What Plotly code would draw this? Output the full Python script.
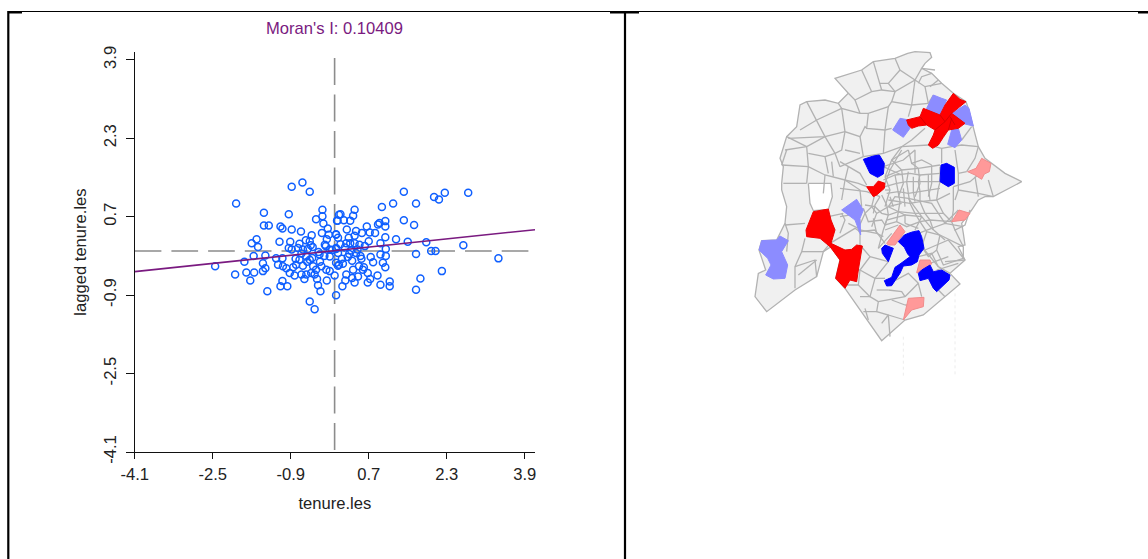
import plotly.graph_objects as go

W, H = 1148, 559

# ---- Moran scatter data (standardised tenure, spatial lag) ----
tenure_les = [-2.02,-0.88,-0.66,-0.51,-1.45,-0.94,-1.45,-1.35,-1.11,-1.07,-0.88,-0.69,-0.25,-0.25,-0.38,-0.23,-0.14,-0.26,-0.47,-0.12,0.03,0.09,0.05,-0.16,-1.60,-1.70,-1.57,-1.13,-0.91,-0.59,-0.72,-0.51,-0.49,-0.20,-1.66,-1.42,-1.85,-1.47,-2.45,-2.04,-1.81,-1.65,-1.73,-1.42,-1.47,-1.16,-1.20,-1.07,-1.07,-1.11,-0.97,-1.38,-0.51,-0.41,-0.29,-0.34,0.03,0.0,-0.16,
-0.94,-0.88,-0.75,-0.65,-0.55,-0.68,-0.58,-0.46,-0.31,-0.21,-0.10,-0.10,0.03,0.07,-1.06,-0.99,-0.85,-0.79,-0.92,-0.82,-0.68,-0.58,-0.62,-0.44,-0.38,-0.27,-0.17,-0.10,-0.41,-0.36,-0.48,0.03,0.07,-0.51,-0.72,-0.65,
1.42,2.26,2.04,2.14,2.74,1.20,1.67,0.97,1.42,1.63,0.41,0.12,0.38,0.06,0.19,0.32,0.92,1.04,1.04,0.89,0.66,0.25,0.44,0.56,0.72,0.83,0.03,0.07,0.41,1.04,1.26,1.50,1.88,2.64,3.36,1.67,1.98,2.07,1.05,0.94,0.29,0.24,0.32,0.41,0.51,0.70,0.03,0.34,0.44,0.53,0.27,0.74,0.79,0.94,1.05,0.99,1.04,0.09,0.17,0.38,0.50,0.58,0.68,0.24,0.36,0.41,0.68,0.73,0.88,0.16,0.94,1.13,1.13,1.76,2.20,1.67,
-0.45,-0.33,-0.18,-0.05,0.12,0.21,0.30,0.47,0.62,0.15,0.36,0.55,-0.30,-0.56,-0.80,0.22,0.48,0.60]
lagged_tenure_les = [0.97,1.31,1.40,1.21,0.78,0.75,0.52,0.52,0.50,0.46,0.44,0.40,0.84,0.71,0.65,0.56,0.46,0.37,0.32,0.33,0.34,0.74,0.62,0.24,0.24,0.16,0.08,0.19,0.19,0.22,0.15,0.20,0.12,0.13,-0.10,-0.09,-0.22,-0.25,-0.31,-0.48,-0.44,-0.44,-0.60,-0.35,-0.41,-0.28,-0.15,-0.15,-0.61,-0.72,-0.72,-0.82,-1.03,-1.19,-0.82,-0.70,-0.90,-0.50,-0.60,
0.06,0.03,0.06,0.03,0.04,-0.05,-0.11,-0.14,-0.07,-0.10,-0.11,0.03,0.04,-0.04,-0.31,-0.35,-0.33,-0.28,-0.45,-0.50,-0.48,-0.48,-0.57,-0.31,-0.38,-0.31,-0.38,-0.41,-0.48,-0.57,-0.45,-0.24,-0.30,-0.18,-0.18,-0.30,
1.21,1.19,1.10,1.05,1.19,0.97,0.97,0.90,0.63,0.53,0.84,0.75,0.72,0.62,0.63,0.62,0.57,0.61,0.50,0.54,0.50,0.44,0.41,0.37,0.38,0.37,0.33,0.27,0.31,0.28,0.24,0.19,0.18,0.12,-0.15,-0.06,0.0,0.0,0.04,0.16,0.27,0.16,0.16,0.16,0.13,0.20,0.06,0.01,-0.04,-0.10,-0.12,-0.12,-0.23,-0.07,-0.10,-0.24,-0.33,-0.28,-0.26,-0.38,-0.31,-0.38,-0.45,-0.48,-0.55,-0.64,-0.64,-0.57,-0.50,-0.72,-0.69,-0.62,-0.72,-0.56,-0.41,-0.79,
0.08,-0.02,0.10,0.02,0.14,0.07,-0.06,0.03,0.10,-0.16,-0.20,-0.16,-0.22,-0.22,-0.16,-0.60,-0.52,-0.33]
fit_x = [-4.1, 4.11]
fit_y = [-0.42, 0.435]
mean_h_x = [-4.1, 4.11]
mean_h_y = [0, 0]
mean_v_x = [0, 0]
mean_v_y = [3.94, -4.1]
tick_vals = [-4.1, -2.5, -0.9, 0.7, 2.3, 3.9]
tick_text = ["-4.1", "-2.5", "-0.9", "0.7", "2.3", "3.9"]
title_text = "Moran's I: 0.10409"
x_title = "tenure.les"
y_title = "lagged tenure.les"

# ---- Map geometry, in map units ----
SOUTH_DY = 420
CENTRE_DX, CENTRE_DY = 285, 300

outline = [(488,10),(510,5),(555,8),(560,22),(540,40),(530,55),(560,70),(590,100),(625,130),(663,155),(670,175),(685,230),(700,290),(720,325),(740,340),(780,370),(830,395),(800,410),(745,440),(720,440),(700,450),(680,480),(650,520),(655,550),(660,585),(640,590),(660,630),(615,670),(645,702),(535,795),(480,810),(410,872),(300,715),(272,685),(285,630),(258,590),(235,605),(215,680),(150,720),(65,785),(30,740),(40,670),(62,660),(42,600),(50,572),(95,570),(120,520),(125,470),(110,420),(110,400),(115,350),(105,325),(125,260),(155,230),(165,165),(185,155),(240,150),(280,160),(310,130),(270,85),(350,60),(385,35),(450,25),(488,10)]
hole = [(190,400),(258,400),(262,440),(250,478),(205,482),(195,460),(190,400)]

north_lines = [
 [(385,35),(405,100),(410,120),(380,125),(330,150),(310,130)],
 [(330,150),(345,190),(290,175),(280,160)],
 [(530,55),(510,90),(450,125),(410,120)],
 [(510,90),(540,110),(590,100)],
 [(450,125),(440,155),(500,165),(490,200)],
 [(510,90),(500,165)],
 [(345,190),(370,190),(430,170),(440,155)],
 [(370,190),(365,235),(420,240),(440,235)],
 [(430,170),(420,240),(415,310)],
 [(185,155),(215,210),(240,260),(270,310),(285,350)],
 [(215,210),(290,175)],
 [(290,175),(300,245),(345,260),(360,230),(365,235)],
 [(300,245),(240,260),(130,265)],
 [(240,260),(185,290),(190,350)],
 [(185,290),(125,260)],
 [(110,345),(190,350),(240,375),(300,390)],
 [(240,320),(250,370)],
 [(270,310),(240,320)],
 [(260,335),(265,380)],
 [(345,260),(355,320)],
 [(285,350),(355,320)],
 [(355,320),(415,310),(470,290),(550,285)],
 [(470,290),(440,330),(420,380)],
 [(540,110),(550,160)],
 [(550,285),(590,295),(620,290),(650,285),(700,290)],
 [(650,270),(680,230)],
 [(700,290),(690,325),(665,365)],
 [(590,295),(590,340)],
 [(540,235),(500,270),(470,290)],
 [(350,60),(365,90),(380,125)],
 [(560,70),(530,80),(520,100)],
 [(490,300),(500,340),(530,330),(560,345)],
 [(300,390),(340,400),(365,410)],
 [(240,375),(235,430)],
 [(185,400),(190,350)],
 [(300,390),(290,450)],
 [(440,330),(490,300)],
 [(420,380),(470,360),(520,355),(585,345)],
 [(440,330),(470,360),(475,400),(460,440)],
 [(500,340),(520,355),(525,400),(510,440)],
 [(560,345),(560,400),(550,440)],
 [(630,300),(640,370),(640,420),(630,450)],
 [(640,370),(665,365)],
 [(690,380),(700,440)],
 [(640,420),(700,430),(745,440)],
 [(730,390),(745,440)],
 [(165,240),(215,210)],
 [(120,300),(185,290)],
 [(190,310),(240,320)],
 [(110,345),(125,300)],
 [(115,400),(185,400)],
 [(300,245),(290,300),(270,310)],
 [(300,300),(345,310)],
 [(300,390),(310,350)],
 [(430,100),(450,125)],
 [(450,25),(465,60),(510,90)],
 [(465,60),(430,100),(405,100)],
 [(555,110),(580,90)],
 [(500,165),(550,160)],
 [(530,55),(570,60)],
 [(550,160),(565,135)],
 [(300,390),(345,420),(350,470)],
 [(420,380),(435,420),(420,470)],
 [(420,420),(435,420)],
]
centre_lines = [
 [(130,90),(165,75),(210,70),(240,75),(300,70)],
 [(135,110),(170,100),(200,95),(235,95),(300,95)],
 [(140,130),(175,125),(205,130),(240,125),(300,115)],
 [(145,150),(180,155),(210,160),(240,155),(290,150),(330,130)],
 [(120,140),(105,165),(100,190)],
 [(165,75),(170,100),(175,125),(180,155),(175,185),(170,215)],
 [(205,65),(200,95),(205,130),(210,160),(225,190),(240,215)],
 [(240,75),(235,95),(240,125),(240,155),(255,190),(270,210)],
 [(300,50),(300,95),(295,115),(290,150),(310,190),(335,215)],
 [(75,165),(105,170),(125,190),(145,195),(175,185),(225,190),(255,190),(310,190)],
 [(125,135),(140,165),(145,195),(135,225)],
 [(70,175),(85,215),(125,210),(135,225),(170,215),(200,230),(240,215),(270,210),(335,215)],
 [(100,205),(110,250),(130,260)],
 [(60,240),(110,250)],
 [(340,110),(340,180),(335,215)],
 [(240,215),(260,245),(300,255),(370,290)],
 [(270,210),(280,240)],
 [(335,215),(345,240),(375,225),(390,180)],
 [(345,240),(370,290)],
 [(300,255),(290,300),(310,345),(370,325),(370,290)],
 [(260,245),(245,290),(265,320),(290,300)],
 [(135,100),(150,60),(185,0)],
 [(0,35),(60,70),(80,105)],
 [(130,50),(185,75)],
 [(225,70),(225,0),(190,30),(130,50)],
 [(0,115),(80,125),(120,140)],
 [(60,190),(0,200)],
 [(150,140),(160,170)],
 [(190,115),(195,170)],
 [(220,80),(220,125),(225,155)],
 [(265,75),(265,115),(270,150)],
 [(340,110),(390,95),(420,70)],
 [(100,130),(130,110)],
]
south_lines = [
 [(120,105),(180,100)],
 [(180,145),(170,185),(150,230),(150,295)],
 [(170,185),(235,185)],
 [(150,230),(210,210),(215,260)],
 [(160,255),(215,210)],
 [(255,160),(235,185)],
 [(255,160),(330,115),(345,125),(345,165)],
 [(255,95),(270,120)],
 [(250,80),(295,70)],
 [(340,125),(390,120),(420,160)],
 [(345,165),(375,200),(345,240),(340,285),(300,285)],
 [(375,200),(410,210),(430,215)],
 [(345,240),(390,265),(375,320),(345,320)],
 [(390,265),(420,265)],
 [(375,320),(400,335),(395,365),(355,365)],
 [(400,335),(480,320)],
 [(395,365),(430,375),(435,440)],
 [(430,375),(480,390)],
 [(480,320),(520,280),(530,320)],
 [(520,280),(490,250),(425,285)],
 [(430,215),(400,250),(390,265)],
 [(540,180),(610,150),(660,210)],
 [(535,175),(580,230),(615,250)],
 [(600,215),(660,210)],
 [(560,115),(600,150)],
 [(555,220),(610,200)],
 [(415,120),(425,90),(480,75),(480,100)],
 [(480,75),(530,80),(560,115),(600,100),(655,110)],
 [(530,80),(510,120)],
 [(600,100),(620,80),(640,60)],
 [(380,110),(395,70),(430,50),(480,75)],
 [(395,70),(380,50),(390,10)],
 [(340,115),(360,70),(380,50)],
 [(430,50),(450,20),(490,25),(530,80)],
 [(490,25),(560,40),(600,100)],
 [(400,175),(415,120)],
 [(120,100),(130,130),(125,185)],
 [(300,285),(310,240),(345,240)],
 [(340,285),(375,320)],
 [(285,210),(345,210)],
 [(430,300),(470,305),(480,320)],
 [(440,330),(480,345)],
 [(395,300),(430,300)],
 [(360,355),(370,390)],
 [(430,375),(410,400)],
 [(480,345),(535,345)],
 [(560,280),(600,320)],
 [(575,240),(640,220)],
 [(520,130),(560,115)],
 [(520,200),(560,190),(580,230)],
 [(430,50),(470,40)],
 [(480,100),(520,115)],
 [(400,175),(440,130)],
 [(420,120),(460,105)],
 [(310,100),(340,115)],
 [(285,130),(300,90),(290,70)],
]
red_north = [[(485,210),(525,200),(535,175),(560,185),(585,195),(600,165),(625,130),(645,148),(663,155),(620,190),(640,205),(660,220),(640,235),(610,240),(595,262),(580,285),(563,295),(550,285),(565,255),(570,240),(545,225),(520,228),(500,235),(490,225),(485,210)],
             [(365,410),(385,410),(400,393),(420,400),(418,415),(395,435),(385,440),(365,410)]]
red_south = [[(205,65),(250,57),(258,90),(270,120),(258,160),(300,180),(320,178),(335,165),(352,168),(345,205),(340,240),(335,275),(315,270),(300,295),(272,265),(285,210),(255,170),(225,145),(185,140),(183,120),(205,65)]]
red_seams = [[(525,200),(545,225)],[(585,195),(600,215),(570,240)],[(600,215),(620,190)],[(610,240),(620,205)],[(630,225),(615,200)]]
blue_north = [[(355,328),(385,318),(403,315),(418,340),(415,372),(398,382),(375,370),(355,328)],
              [(588,345),(605,340),(628,352),(628,400),(610,410),(585,395),(588,345)]]
blue_south = [[(410,175),(420,165),(445,175),(437,200),(430,215),(412,190),(410,175)],
              [(460,155),(478,135),(490,130),(505,125),(522,122),(530,140),(537,175),(522,195),(517,215),(500,225),(475,228),(465,250),(450,272),(440,287),(425,288),(418,272),(440,262),(450,232),(465,222),(490,205),(495,200),(488,192),(478,172),(460,155)],
              [(520,250),(530,240),(555,225),(565,245),(590,240),(615,255),(612,270),(590,290),(575,305),(565,295),(550,265),(525,272),(520,250)]]
lightblue_north = [[(545,175),(565,135),(590,145),(605,150),(585,195),(545,185),(545,175)],
                   [(620,190),(660,165),(672,175),(685,228),(660,222),(620,190)],
                   [(620,240),(640,235),(650,270),(630,293),(608,283),(620,240)],
                   [(443,240),(465,205),(492,210),(495,235),(475,262),(443,240)]]
lightblue_south = [[(290,60),(335,28),(355,60),(345,85),(347,135),(330,90),(290,60)],
                   [(42,180),(50,152),(95,150),(105,138),(130,152),(110,185),(128,225),(120,265),(85,267),(62,255),(78,225),(68,205),(42,180)]]
pink_north = [[(668,365),(693,355),(710,325),(738,340),(733,365),(718,372),(710,388),(690,375),(668,365)]]
pink_south = [[(620,95),(642,60),(675,70),(660,90),(620,95)],
              [(425,160),(465,105),(480,125),(450,165),(430,165),(425,160)],
              [(515,248),(525,210),(555,210),(560,222),(530,245),(515,248)],
              [(475,390),(490,325),(537,322),(535,350),(500,360),(475,390)]]
dotted = [[(475,440),(475,560)],[(630,310),(630,560)]]


def shifted(lines, dx=0, dy=0):
    return [[(x + dx, y + dy) for x, y in line] for line in lines]


def joined(lines):
    xs, ys = [], []
    for line in lines:
        xs += [p[0] for p in line] + [None]
        ys += [p[1] for p in line] + [None]
    return xs, ys


fig = go.Figure()


def map_path(lines, fill=None, line_color="#b2b2b2", width=1.3, dash="solid"):
    xs, ys = joined(lines)
    fig.add_trace(go.Scatter(x=xs, y=ys, xaxis="x2", yaxis="y2", mode="lines",
                             fill="toself" if fill else None, fillcolor=fill,
                             line=dict(color=line_color, width=width, dash=dash),
                             hoverinfo="skip", showlegend=False))


map_path([outline], fill="#f0f0f0")
map_path([hole], fill="#ffffff")
map_path(north_lines + shifted(centre_lines, CENTRE_DX, CENTRE_DY) + shifted(south_lines, 0, SOUTH_DY))
map_path(shifted(dotted, 0, SOUTH_DY), line_color="#ececec", width=1, dash="dot")
map_path(lightblue_north + shifted(lightblue_south, 0, SOUTH_DY), fill="#8c8cff", line_color="#8c8cff", width=1)
map_path(pink_north + shifted(pink_south, 0, SOUTH_DY), fill="#ff9999", line_color="#f08c8c", width=1)
map_path(blue_north + shifted(blue_south, 0, SOUTH_DY), fill="#0000ff", line_color="#0000ff", width=1)
map_path(red_north + shifted(red_south, 0, SOUTH_DY), fill="#ff0000", line_color="#f00000", width=1)
map_path(red_seams, line_color="#cc0000", width=0.8)

# Moran scatter
fig.add_trace(go.Scatter(x=mean_h_x, y=mean_h_y, mode="lines", hoverinfo="skip", showlegend=False,
                         line=dict(color="#8c8c8c", width=1.6, dash="26.7px,10px")))
fig.add_trace(go.Scatter(x=mean_v_x, y=mean_v_y, mode="lines", hoverinfo="skip", showlegend=False,
                         line=dict(color="#8c8c8c", width=1.6, dash="27px,9.5px")))
fig.add_trace(go.Scatter(x=tenure_les, y=lagged_tenure_les, mode="markers", showlegend=False,
                         marker=dict(symbol="circle-open", size=7, color="#0f5fff", line=dict(color="#0f5fff", width=1.5))))
fig.add_trace(go.Scatter(x=fit_x, y=fit_y, mode="lines", showlegend=False, hoverinfo="skip",
                         line=dict(color="#7a1a80", width=1.6)))

font = dict(family="Liberation Sans, Arial, sans-serif", size=16.6, color="#222222")
axis_common = dict(tickmode="array", tickvals=tick_vals, ticktext=tick_text, showgrid=False, zeroline=False,
                   automargin=False,
                   showline=True, linecolor="#111111", linewidth=1.4, ticks="outside", tickcolor="#111111",
                   tickwidth=1.4, tickfont=font, title_font=font)

frame = [
    (8, 11.5, 1148, 11.5, 1.2), (8, 12.5, 22, 12.5, 2), (610, 12.5, 639, 12.5, 2), (1138, 12.5, 1148, 12.5, 2),
    (8.3, 11, 8.3, 559, 2.2), (625, 11, 625, 559, 2.2),
]
shapes = [dict(type="line", xref="paper", yref="paper", x0=a / W, x1=c / W, y0=1 - b / H, y1=1 - d / H,
               line=dict(color="#000000", width=w), layer="above") for a, b, c, d, w in frame]

fig.update_layout(
    width=W, height=H, autosize=False, margin=dict(l=0, r=0, t=0, b=0),
    paper_bgcolor="white", plot_bgcolor="rgba(0,0,0,0)", showlegend=False, shapes=shapes,
    title=dict(text=title_text, x=334.5 / W, xanchor="center", y=1 - 28 / H, yanchor="middle",
               font=dict(family="Liberation Sans, Arial, sans-serif", size=16.6, color="#7a1a80")),
    xaxis=dict(domain=[134.7 / W, 535 / W], range=[-4.1, 4.11], ticklen=6, ticklabelstandoff=1,
               title=dict(text=x_title, standoff=14), **axis_common),
    yaxis=dict(domain=[1 - 452 / H, 1 - 52 / H], range=[-4.1, 4.06], ticklen=8, tickangle=-90, ticklabelstandoff=3,
               title=dict(text=y_title, standoff=10), **axis_common),
    xaxis2=dict(domain=[0, 1], range=[-2235, 1209], visible=False, anchor="y2", automargin=False),
    yaxis2=dict(domain=[0, 1], range=[1527, -150], visible=False, anchor="x2", automargin=False),
)
fig.write_html("out.html", config=dict(displayModeBar=False),
               post_script="document.body.style.margin='0';document.documentElement.style.overflow='hidden';")
